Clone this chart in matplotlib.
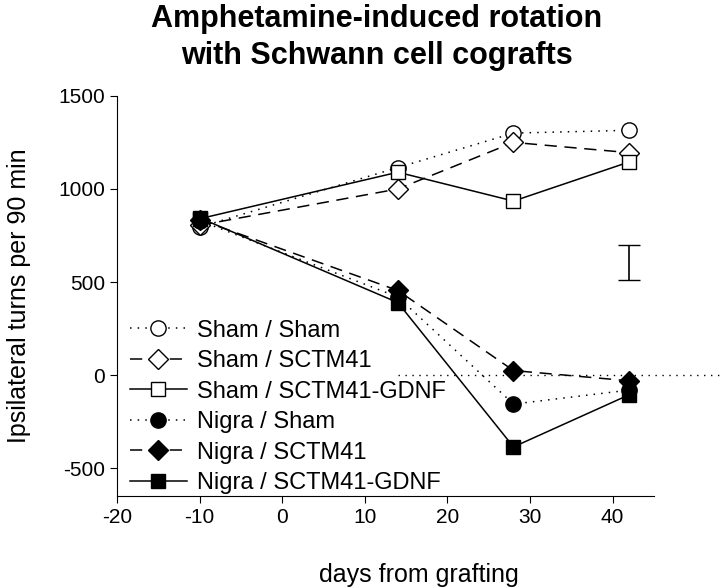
import matplotlib.pyplot as plt

plt.rcParams['font.family'] = ['Liberation Sans', 'DejaVu Sans']
plt.rcParams['axes.unicode_minus'] = False

days = [-10, 14, 28, 42]
labels = ['Sham / Sham', 'Sham / SCTM41', 'Sham / SCTM41-GDNF',
          'Nigra / Sham', 'Nigra / SCTM41', 'Nigra / SCTM41-GDNF']
sham_sham = [795, 1115, 1300, 1315]
sham_sctm41 = [805, 1000, 1250, 1195]
sham_gdnf = [840, 1090, 935, 1145]
nigra_sham = [830, 420, -155, -80]
nigra_sctm41 = [835, 455, 25, -30]
nigra_gdnf = [845, 390, -385, -105]
err_x = 42
err_low, err_high = 510, 700
zero_from, zero_to = 14, 53

series = [sham_sham, sham_sctm41, sham_gdnf, nigra_sham, nigra_sctm41, nigra_gdnf]
markers = ['o', 'D', 's', 'o', 'D', 's']
faces = ['white', 'white', 'white', 'black', 'black', 'black']
styles = [(0, (1, 4)), (0, (8, 5)), '-', (0, (1, 4)), (0, (8, 5)), '-']
sizes = [11, 10, 10, 11, 10, 10]

fig = plt.figure(figsize=(7.2, 5.88), dpi=100)
ax = fig.add_axes([0.1625, 0.156, 0.8375, 0.681])

# dotted zero reference line
ax.hlines(0, zero_from, zero_to, color='black', lw=1, ls=(0, (1, 4)), zorder=1)

for vals, lab, m, fc, ls, ms in zip(series, labels, markers, faces, styles, sizes):
    ax.plot(days, vals, marker=m, markerfacecolor=fc, markeredgecolor='black',
            color='black', ls=ls, lw=1.1, markersize=ms, label=lab, zorder=3)

ax.errorbar([err_x], [(err_low + err_high) / 2], yerr=[(err_high - err_low) / 2],
            color='black', capsize=8, lw=1.2, fmt='none')

ax.set_xlim(-20, 53)
ax.set_ylim(-650, 1500)
ax.set_xticks([-20, -10, 0, 10, 20, 30, 40])
ax.set_yticks([-500, 0, 500, 1000, 1500])
ax.spines['top'].set_visible(False)
ax.spines['right'].set_visible(False)
ax.spines['bottom'].set_bounds(-20, 45)
ax.tick_params(labelsize=15, length=5, direction='out')

ax.set_xlabel('days from grafting', fontsize=18, labelpad=26)
ax.set_ylabel('Ipsilateral turns per 90 min', fontsize=18, labelpad=20)

fig.suptitle('Amphetamine-induced rotation\nwith Schwann cell cografts',
             fontsize=22, fontweight='bold', x=0.523, y=0.993, linespacing=1.32)

leg = ax.legend(loc='lower left', bbox_to_anchor=(0.006, -0.018), fontsize=17,
                frameon=False, handlelength=2.4, labelspacing=0.36,
                handletextpad=0.45, borderpad=0.2, borderaxespad=0.2)

fig.savefig('out.png', dpi=100)
